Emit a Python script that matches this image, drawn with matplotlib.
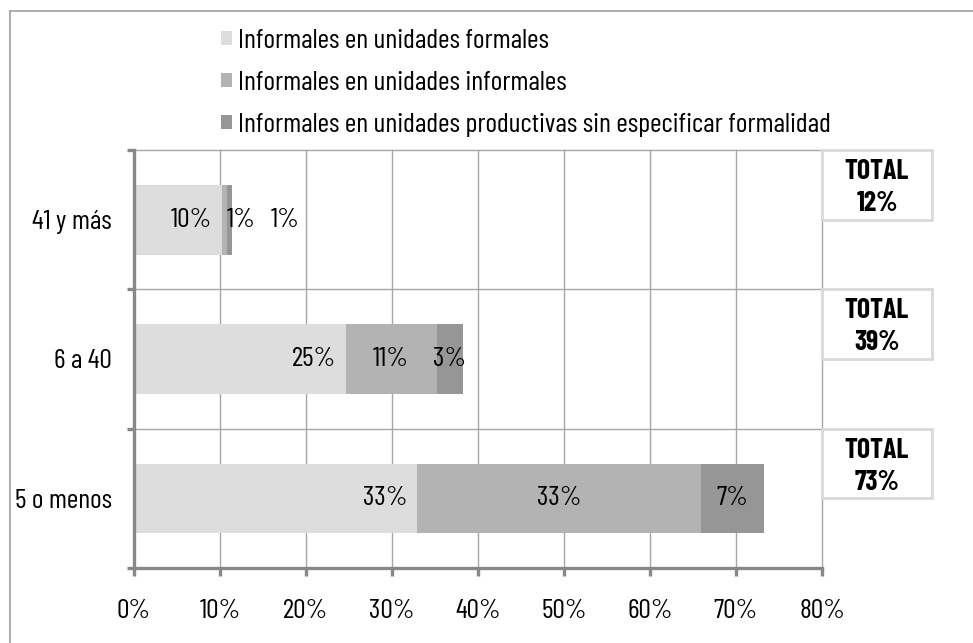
import numpy as np
import matplotlib.pyplot as plt
import matplotlib.transforms as mtransforms
from matplotlib.patches import Rectangle
from matplotlib.lines import Line2D

plt.rcParams['font.family'] = ['Barlow Condensed', 'DejaVu Sans']
plt.rcParams['font.size'] = 20

# datos (porcentajes), de abajo hacia arriba
categorias = ['5 o menos', '6 a 40', '41 y más']
formales = [32.9, 24.6, 10.2]
informales = [33.0, 10.6, 0.6]
sin_especificar = [7.3, 3.0, 0.6]
totales = [73, 39, 12]
series_nombres = ['Informales en unidades formales',
                  'Informales en unidades informales',
                  'Informales en unidades productivas sin especificar formalidad']
colores = ['#DDDDDD', '#B3B3B3', '#969696']
gris_eje = '#888888'

fig = plt.figure(figsize=(9.73, 6.43), dpi=100)
ax = fig.add_axes([134/973, 1-568/643, 688/973, 418/643])

y = np.arange(len(categorias))
izq = np.zeros(len(categorias))
barras = []
for k, vals in enumerate([formales, informales, sin_especificar]):
    vals = np.array(vals)
    b = ax.barh(y, vals, left=izq, height=0.5, color=colores[k], zorder=2,
                label=series_nombres[k])
    barras.append(b)
    for i, v in enumerate(vals):
        txt = '%d%%' % round(v)
        if k == 0:
            ax.annotate(txt, (izq[i] + v, y[i]), xytext=(-7, 0), textcoords='offset points',
                        ha='right', va='center', zorder=3)
        elif v < 2:
            # segmentos muy chicos: etiqueta desplazada a la derecha
            dx = 12 if k == 1 else 40
            ax.annotate(txt, (izq[i] + v / 2, y[i]), xytext=(dx, 0), textcoords='offset points',
                        ha='center', va='center', zorder=3)
        else:
            ax.text(izq[i] + v / 2, y[i], txt, ha='center', va='center', zorder=3)
    izq = izq + vals

ax.set_xlim(0, 80)
ax.set_ylim(-0.5, len(categorias) - 0.5)
ax.set_xticks(np.arange(0, 81, 10))
ax.set_xticklabels(['%d%%' % t for t in range(0, 81, 10)])
ax.set_yticks(y)
ax.set_yticklabels(categorias)
ax.set_yticks(np.arange(-0.5, len(categorias), 1), minor=True)

# rejilla
for t in np.arange(10, 81, 10):
    ax.axvline(t, color='#A6A6A6', lw=1, zorder=1, clip_on=False)
for t in np.arange(0.5, len(categorias), 1):
    ax.axhline(t, color='#A6A6A6', lw=1, zorder=1, clip_on=False)

for s in ['top', 'right']:
    ax.spines[s].set_visible(False)
for s in ['left', 'bottom']:
    ax.spines[s].set_color(gris_eje)
    ax.spines[s].set_linewidth(2.4)
    ax.spines[s].set_zorder(4)
ax.tick_params(axis='x', length=6, width=2.4, color=gris_eje, pad=16)
ax.tick_params(axis='y', which='major', length=0, pad=16)
ax.tick_params(axis='y', which='minor', length=5, width=2.4, color=gris_eje)

# cuadros de totales
trans = mtransforms.blended_transform_factory(ax.transAxes, ax.transData)
for i, tot in enumerate(totales):
    r = Rectangle((1.0, y[i]), 110/688, 0.5, transform=trans, facecolor='white',
                  edgecolor='#D9D9D9', lw=2, clip_on=False, zorder=5)
    ax.add_patch(r)
    ax.annotate('TOTAL\n%d%%' % tot, (1.0 + 55/688, y[i] + 0.25), xycoords=trans,
                xytext=(0, -2), textcoords='offset points', ha='center', va='center',
                fontweight='bold', linespacing=1.35, zorder=6, annotation_clip=False)

leg = fig.legend(handles=barras, loc='upper left', bbox_to_anchor=(221/973, 1-29/643),
                 frameon=False, handlelength=0.4, handleheight=0.4, handletextpad=0.2,
                 labelspacing=0.65, borderpad=0, borderaxespad=0)

# marco de la figura
fig.add_artist(Line2D([10/973, 10/973], [0, 1-11/643], color='#A0A0A0', lw=1.2))
fig.add_artist(Line2D([10/973, 1], [1-11/643, 1-11/643], color='#A0A0A0', lw=1.2))

plt.savefig('out.png', dpi=100)
